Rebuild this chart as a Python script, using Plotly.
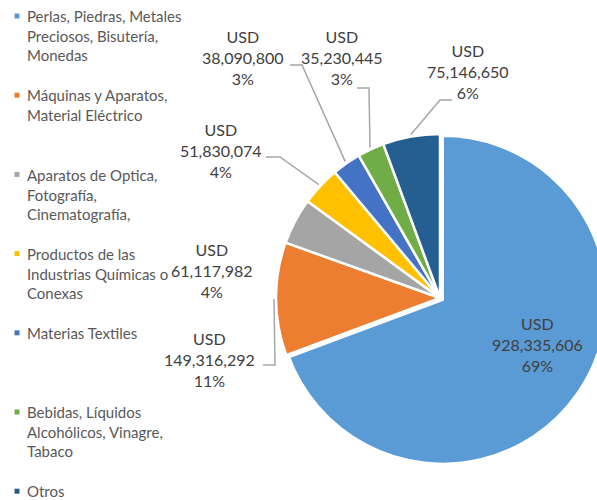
import math
import plotly.graph_objects as go

# ---------------- data ----------------
categories = [
    "Perlas, Piedras, Metales Preciosos, Bisutería, Monedas",
    "Máquinas y Aparatos, Material Eléctrico",
    "Aparatos de Optica, Fotografía, Cinematografía,",
    "Productos de las Industrias Químicas o Conexas",
    "Materias Textiles",
    "Bebidas, Líquidos Alcohólicos, Vinagre, Tabaco",
    "Otros",
]
legend_labels = [
    "Perlas, Piedras, Metales<br>Preciosos, Bisutería,<br>Monedas",
    "Máquinas y Aparatos,<br>Material Eléctrico",
    "Aparatos de Optica,<br>Fotografía,<br>Cinematografía,",
    "Productos de las<br>Industrias Químicas o<br>Conexas",
    "Materias Textiles",
    "Bebidas, Líquidos<br>Alcohólicos, Vinagre,<br>Tabaco",
    "Otros",
]
values = [928335606, 149316292, 61117982, 51830074, 38090800, 35230445, 75146650]
pct_labels = ["69%", "11%", "4%", "4%", "3%", "3%", "6%"]

# ---------------- style / layout ----------------
colors = ["#5B9BD5", "#ED7D31", "#A5A5A5", "#FFC000", "#4472C4", "#70AD47", "#255E91"]
W, H = 620, 500
CX, CY, R_PIE = 440, 298, 164
PULL = [0.02, 0, 0, 0, 0, 0, 0]
label_pos = [(537, 344), (210, 359), (212, 270), (221, 150), (243, 58), (342, 58), (468, 71)]
leaders = {1: [(263, 365), (275, 365)], 3: [(266, 157), (280, 157)],
           4: [(290, 65), (302, 65)], 5: [(357, 88), (369, 88)],
           6: [(452, 100), (440, 100)]}
LEG_X_MARK, LEG_X_TEXT, LEG_Y0, LEG_STEP = 17, 25, 16, 79.2


def px(x):
    return x / W


def py(y):
    return 1 - y / H


Rdom = R_PIE * (1 + max(PULL))
fig = go.Figure()
fig.add_trace(go.Pie(
    labels=categories, values=values, sort=False, direction="clockwise", rotation=0,
    marker=dict(colors=colors, line=dict(color="white", width=2.5)),
    pull=PULL, textinfo="none", hoverinfo="skip", showlegend=False,
    domain=dict(x=[px(CX - Rdom), px(CX + Rdom)], y=[py(CY + Rdom), py(CY - Rdom)]),
))

annotations = []
shapes = []

# legend (Excel style: evenly spaced entries, small square keys)
for i, (lab, col) in enumerate(zip(legend_labels, colors)):
    yc = LEG_Y0 + i * LEG_STEP
    annotations.append(dict(
        x=px(LEG_X_TEXT), y=py(yc - 10.8), xref="paper", yref="paper", showarrow=False,
        text=lab, align="left", xanchor="left", yanchor="top",
        font=dict(family="Lato", size=15, color="#595959")))
    shapes.append(dict(type="rect", xref="paper", yref="paper",
                       x0=px(LEG_X_MARK - 2.5), x1=px(LEG_X_MARK + 2.5),
                       y0=py(yc + 2.5), y1=py(yc - 2.5),
                       fillcolor=col, line=dict(width=0)))

# data labels + leader lines
total = sum(values)
cum = 0
for i, v in enumerate(values):
    mid = (cum + v / 2) / total
    cum += v
    ang = 2 * math.pi * mid
    ex = CX + (R_PIE + 2) * math.sin(ang)
    ey = CY - (R_PIE + 2) * math.cos(ang)
    lx, ly = label_pos[i]
    annotations.append(dict(
        x=px(lx), y=py(ly), xref="paper", yref="paper", showarrow=False,
        text=f"USD<br>{v:,}<br>{pct_labels[i]}", align="center",
        font=dict(family="Lato", size=16, color="#404040"),
        xanchor="center", yanchor="middle"))
    if i in leaders:
        (sx, sy), (bx, by) = leaders[i]
        path = f"M {px(sx)} {py(sy)} L {px(bx)} {py(by)} L {px(ex)} {py(ey)}"
        shapes.append(dict(type="path", path=path, xref="paper", yref="paper",
                           line=dict(color="#A6A6A6", width=1.5)))

fig.update_layout(
    width=W, height=H, margin=dict(l=0, r=0, t=0, b=0),
    paper_bgcolor="white", plot_bgcolor="white", showlegend=False,
    annotations=annotations, shapes=shapes,
    font=dict(family="Lato"),
)

fig.write_html("out.html", config={"displayModeBar": False}, post_script=(
    "document.body.style.margin='0';document.body.style.overflow='hidden';"))
